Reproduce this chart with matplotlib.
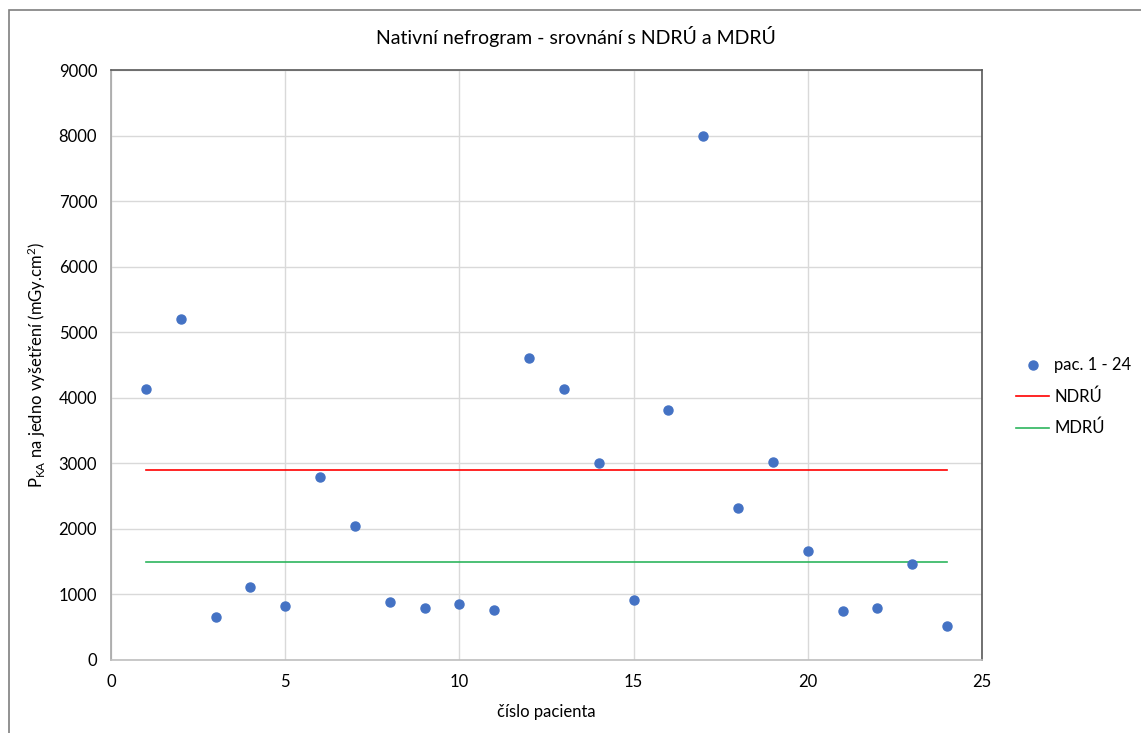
import matplotlib
matplotlib.use("Agg")
import matplotlib.pyplot as plt
from matplotlib.patches import Rectangle

plt.rcParams['font.family'] = ['Lato', 'DejaVu Sans']
plt.rcParams['mathtext.default'] = 'regular'

patients = list(range(1, 25))
pka_values = [4140, 5200, 660, 1120, 820, 2790, 2050, 890, 790, 850, 770, 4610,
              4140, 3000, 920, 3820, 7990, 2320, 3020, 1670, 740, 800, 1470, 520]
ndru_level = 2900
mdru_level = 1500
ref_x = [1, 24]

x_ticks = [0, 5, 10, 15, 20, 25]
y_ticks = list(range(0, 9001, 1000))

fig = plt.figure(figsize=(11.41, 7.33), dpi=100)
ax = fig.add_axes([0.0973, 0.0996, 0.7633, 0.8049])

# outer chart frame
fig.add_artist(Rectangle((0.0079, -0.05), 1.05, 1.0364, transform=fig.transFigure,
                         fill=False, edgecolor='#7f7f7f', linewidth=1.2))

ax.plot(patients, pka_values, linestyle='none', marker='o', markersize=6.5,
        color='#4472C4', label='pac. 1 - 24', zorder=3)
ax.plot(ref_x, [ndru_level, ndru_level], color='#FF0000', linewidth=1.2,
        label='NDRÚ', zorder=2)
ax.plot(ref_x, [mdru_level, mdru_level], color='#2DB55D', linewidth=1.2,
        label='MDRÚ', zorder=2)

ax.set_xlim(0, 25)
ax.set_ylim(0, 9000)
ax.set_xticks(x_ticks)
ax.set_yticks(y_ticks)
ax.tick_params(length=0, labelsize=12, pad=10)
ax.grid(True, color='#d9d9d9', linewidth=1)
ax.set_axisbelow(True)

ax.spines['left'].set_color('#a6a6a6')
ax.spines['bottom'].set_color('#bfbfbf')
ax.spines['top'].set_color('#595959')
ax.spines['right'].set_color('#595959')
for s in ax.spines.values():
    s.set_linewidth(1.2)

fig.text(0.505, 0.95, 'Nativní nefrogram - srovnání s NDRÚ a MDRÚ',
         ha='center', va='center', fontsize=14)
ax.set_xlabel('číslo pacienta', fontsize=12, labelpad=10)
ax.set_ylabel('P$_{KA}$ na jedno vyšetření (mGy.cm$^{2}$)', fontsize=12, labelpad=8)

ax.legend(loc='center left', bbox_to_anchor=(1.022, 0.446), frameon=False,
          fontsize=12, handlelength=2.0, handletextpad=0.3, labelspacing=0.9)

fig.savefig('out.png', dpi=100)
